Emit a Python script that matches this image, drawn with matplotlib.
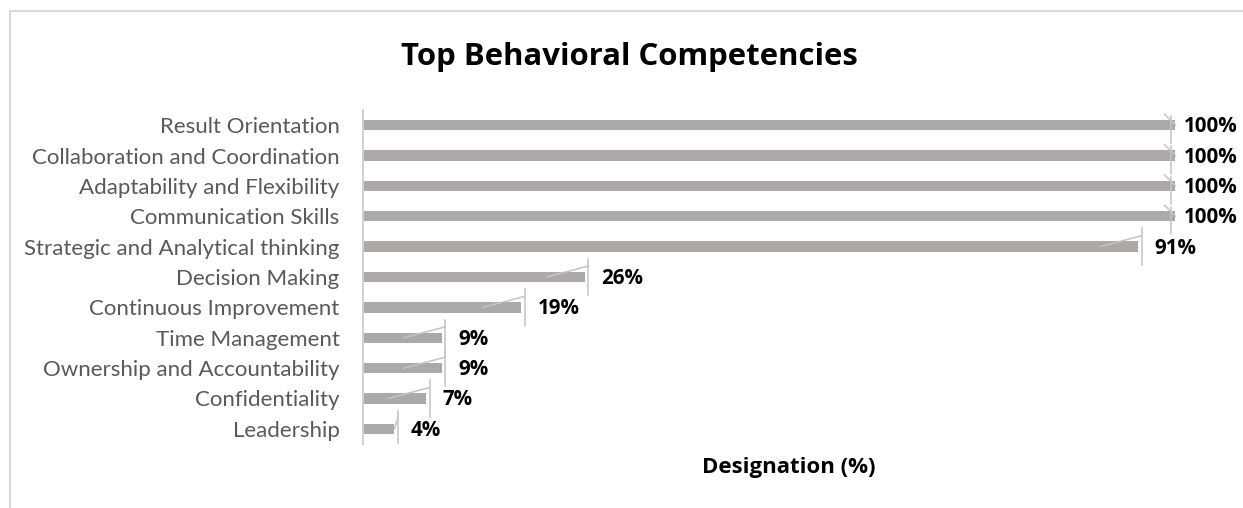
import matplotlib

matplotlib.use("Agg")
import matplotlib.pyplot as plt
from matplotlib.patches import Rectangle

competencies = [
    "Result Orientation",
    "Collaboration and Coordination",
    "Adaptability and Flexibility",
    "Communication Skills",
    "Strategic and Analytical thinking",
    "Decision Making",
    "Continuous Improvement",
    "Time Management",
    "Ownership and Accountability",
    "Confidentiality",
    "Leadership",
]
# bar lengths as drawn (the 100% bars are cut short in the original)
bar_length = [95.5, 95.5, 95.5, 95.5, 91.2, 26.1, 18.6, 9.3, 9.3, 7.45, 3.7]
share_labels = ["100%", "100%", "100%", "100%", "91%", "26%", "19%", "9%", "9%", "7%", "4%"]

BAR_COLOR = "#ADA9A9"
LINE_COLOR = "#C4C4C4"
TEXT_GRAY = "#595959"
FONT = ["Lato", "DejaVu Sans"]
BOLD_FONT = ["Open Sans", "DejaVu Sans"]

plt.rcParams["font.family"] = FONT

W, H = 1243, 508
fig = plt.figure(figsize=(W / 100, H / 100), dpi=100)
ax = fig.add_axes([363 / W, 1 - 444 / H, 854 / W, 334 / H])

y = list(range(len(competencies)))
ax.barh(y, bar_length, height=0.34, color=BAR_COLOR, zorder=2)

ax.set_xlim(0, 854 / 8.5)
ax.set_ylim(len(competencies) - 0.5, -0.5)
ax.set_yticks(y)
ax.set_yticklabels(competencies, fontsize=16, color=TEXT_GRAY)
ax.tick_params(axis="y", length=0, pad=17)
ax.set_xticks([])
for side in ("top", "right", "bottom"):
    ax.spines[side].set_visible(False)
ax.spines["left"].set_color("#D0D0D0")
ax.spines["left"].set_linewidth(1.4)

# data labels with their leader lines
for yi, val, lab in zip(y, bar_length, share_labels):
    if lab == "100%":
        vx = val - 0.45
        ax.plot([vx, vx], [yi - 0.3, yi + 0.6], color=LINE_COLOR, lw=1.1, zorder=3)
        ax.plot([val - 1.2, val + 0.1], [yi - 0.36, yi], color=LINE_COLOR, lw=1.1, zorder=3)
    else:
        vx = val + 0.4
        ax.plot([vx, vx], [yi - 0.6, yi + 0.6], color=LINE_COLOR, lw=1.1, zorder=3)
        x0 = val - 4.5 if val > 5 else val
        ax.plot([x0, vx], [yi, yi - 0.36], color=LINE_COLOR, lw=1.1, zorder=3)
    ax.text(vx + 1.55, yi + 0.05, lab, fontsize=14.8, fontweight="bold", color="black",
            family=BOLD_FONT, va="center", ha="left", zorder=4)

fig.text(629.5 / W, 1 - 65 / H, "Top Behavioral Competencies", fontsize=22.4,
         fontweight="bold", family=BOLD_FONT, ha="center", va="baseline", color="black")
fig.text(789 / W, 1 - 473 / H, "Designation (%)", fontsize=16,
         fontweight="bold", family=BOLD_FONT, ha="center", va="baseline", color="black")

# chart border (cut off at right and bottom in the original)
fig.add_artist(Rectangle((10 / W, -0.1), 1.2, 1.1 - 11 / H, transform=fig.transFigure,
                         fill=False, edgecolor="#D9D9D9", lw=1.5))

fig.savefig("out.png", dpi=100)
